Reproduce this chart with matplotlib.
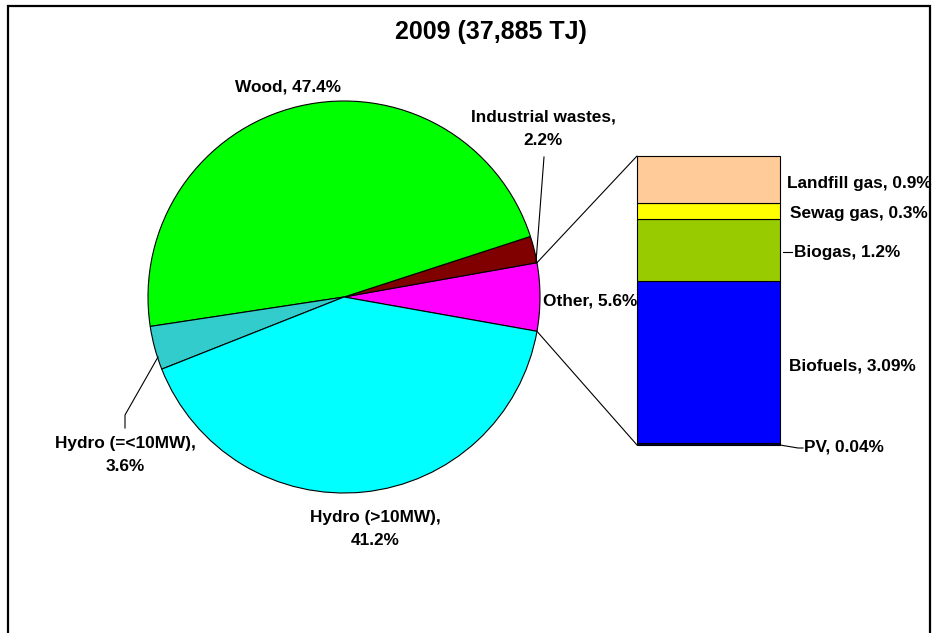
import numpy as np
import matplotlib.pyplot as plt
from matplotlib.patches import Rectangle, ConnectionPatch

plt.rcParams['font.family'] = ['Liberation Sans', 'DejaVu Sans']
plt.rcParams['font.weight'] = 'bold'

W, H = 933, 633

# pie data (counterclockwise from the "Other" slice)
pie_names = ['Other', 'Industrial wastes', 'Wood', 'Hydro (=<10MW)', 'Hydro (>10MW)']
pie_values = [5.6, 2.2, 47.4, 3.6, 41.2]
pie_colors = ['#ff00ff', '#800000', '#00ff00', '#33cccc', '#00ffff']

# breakdown of "Other" (bottom to top)
bar_names = ['PV', 'Biofuels', 'Biogas', 'Sewag gas', 'Landfill gas']
bar_values = [0.04, 3.09, 1.2, 0.3, 0.9]
bar_colors = ['#000040', '#0000ff', '#99cc00', '#ffff00', '#ffcc99']

title = '2009 (37,885 TJ)'
fs = 12.4
ls = 1.7

fig = plt.figure(figsize=(W / 100, H / 100), dpi=100)
ax = fig.add_axes([0, 0, 1, 1])

cx, cy, r = 344, H - 297, 196
start = -pie_values[0] / 100 * 360 / 2
wedges, _ = ax.pie(pie_values, colors=pie_colors, center=(cx, cy), radius=r,
                   startangle=start, counterclock=True, frame=True,
                   wedgeprops=dict(edgecolor='black', linewidth=0.8))
ax.set_xlim(0, W)
ax.set_ylim(0, H)
ax.set_aspect('equal')
ax.axis('off')

# outer border
fig.add_artist(Rectangle((8 / W, -0.05), 922 / W, (H - 6) / H + 0.05,
                         transform=fig.transFigure, fill=False,
                         edgecolor='black', linewidth=1.6))

ax.text(491, H - 32, title, ha='center', va='center', fontsize=18)

# pie labels
ax.text(288, H - 87, 'Wood, 47.4%', ha='center', va='center', fontsize=fs)
ax.text(543, H - 129, 'Industrial wastes,\n2.2%', ha='center', va='center',
        fontsize=fs, linespacing=ls)
ax.plot([536, 544], [H - 262, H - 157], color='black', lw=0.8)
ax.text(543, H - 301, 'Other, 5.6%', ha='left', va='center', fontsize=fs)
ax.text(375, H - 529, 'Hydro (>10MW),\n41.2%', ha='center', va='center',
        fontsize=fs, linespacing=ls)
ax.text(125, H - 455, 'Hydro (=<10MW),\n3.6%', ha='center', va='center',
        fontsize=fs, linespacing=ls)
ax.plot([158, 125, 125], [H - 357, H - 415, H - 428], color='black', lw=0.8)

# bar of "Other"
bl, bt, bw, bh = 637, 156, 143, 289
ax2 = fig.add_axes([bl / W, (H - bt - bh) / H, bw / W, bh / H])
total = sum(bar_values)
bottoms = np.cumsum([0] + bar_values[:-1])
ax2.bar(0, bar_values, bottom=bottoms, width=1, color=bar_colors,
        edgecolor='black', linewidth=0.8, clip_on=False)
ax2.set_xlim(-0.5, 0.5)
ax2.set_ylim(0, total)
ax2.axis('off')

tr = ax2.get_yaxis_transform()
px = total / bh  # data units per pixel
mids = bottoms + np.array(bar_values) / 2
lab_x = [(804 - bl) / bw, (789 - bl) / bw, (794 - bl) / bw, (790 - bl) / bw, (787 - bl) / bw]
lab_dy = [-3, -4, -2, -3, -4]
for name, v, m, x, dy in zip(bar_names, bar_values, mids, lab_x, lab_dy):
    ax2.text(x, m + dy * px, f'{name}, {v:g}%', transform=tr, ha='left',
             va='center', fontsize=fs, clip_on=False)
# small leaders
ax2.plot([(783 - bl) / bw, (792 - bl) / bw], [mids[2] - 2 * px] * 2, transform=tr,
         color='black', lw=0.8, clip_on=False)
ax2.plot([1.0, (798 - bl) / bw, (803 - bl) / bw], [0, -3 * px, -3 * px], transform=tr,
         color='black', lw=0.8, clip_on=False)

# connection lines pie -> bar
for ang, yb in [(start + pie_values[0] / 100 * 360, total), (start, 0)]:
    x0 = cx + r * np.cos(np.radians(ang))
    y0 = cy + r * np.sin(np.radians(ang))
    con = ConnectionPatch(xyA=(x0, y0), coordsA=ax.transData,
                          xyB=(-0.5, yb), coordsB=ax2.transData,
                          color='black', lw=0.8)
    fig.add_artist(con)

fig.savefig('out.png', dpi=100, facecolor='white')
